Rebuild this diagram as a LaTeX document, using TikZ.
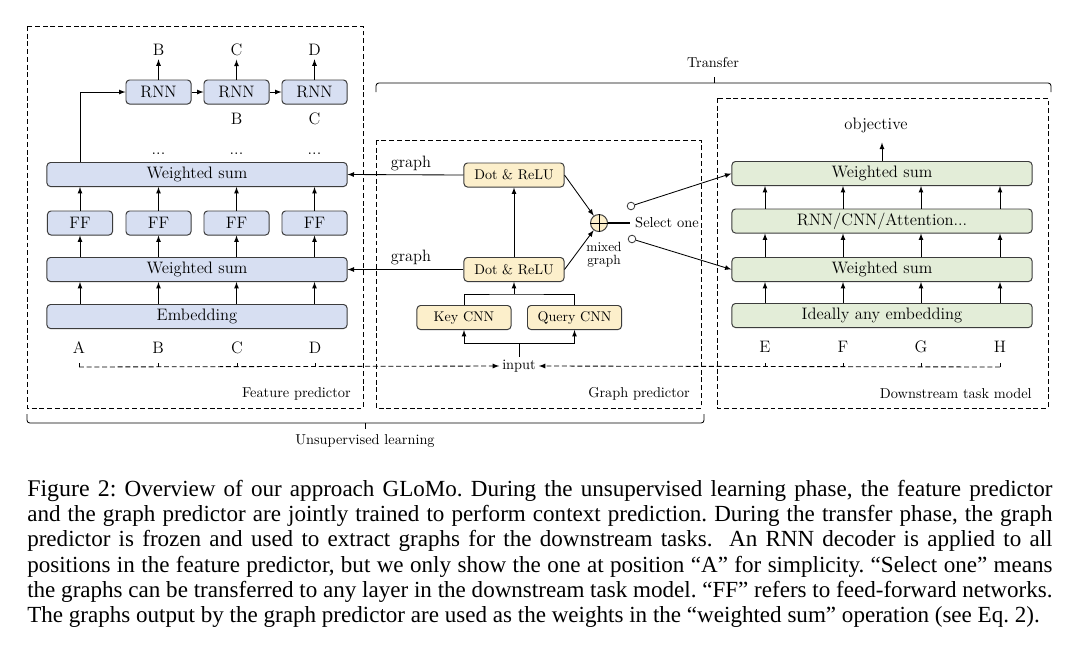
\documentclass[tikz,border=0pt]{standalone}
\usepackage{tikz}
\usepackage{xcolor}
\usepackage{fontspec}
\newfontfamily\capfont{Liberation Serif}
\usetikzlibrary{arrows}
\definecolor{fpblue}{HTML}{D7DFF2}
\definecolor{gpyellow}{HTML}{FCEFCB}
\definecolor{dsgreen}{HTML}{E3EDD8}
\definecolor{boxline}{HTML}{3C3C3C}

\begin{document}
\begin{tikzpicture}[x=0.025cm,y=-0.025cm,
  box/.style={draw=boxline,line width=0.7pt,rounded corners=2.5pt,inner sep=0pt,minimum height=0.6cm},
  fpbox/.style={box,fill=fpblue,font=\fontsize{11.8}{14}\selectfont},
  gpbox/.style={box,fill=gpyellow,font=\fontsize{10}{12}\selectfont},
  dsbox/.style={box,fill=dsgreen,font=\fontsize{11.8}{14}\selectfont},
  wide/.style={minimum width=7.5cm},
  narrow/.style={minimum width=1.625cm},
  lbl/.style={inner sep=2.4pt,font=\fontsize{11.8}{14}\selectfont},
  small/.style={inner sep=0pt,font=\fontsize{10.2}{12}\selectfont},
  region/.style={dash pattern=on 3.5pt off 2pt,line width=0.6pt},
  link/.style={line width=0.6pt},
  arr/.style={-latex,line width=0.6pt}]
\fill[white] (0,0) rectangle (1080,646);

\draw[region] (27,26) rectangle (363,408);
\draw[region] (376,140) rectangle (701,408);
\draw[region] (717,98) rectangle (1048,408);
\node[small,anchor=east] (fpname) at (351,394) {Feature predictor};
\node[small,anchor=east] (gpname) at (690,394) {Graph predictor};
\node[small,anchor=east] (dsname) at (1032,394) {Downstream task model};

\draw[link,rounded corners=2pt] (27,414) -- (27,423) -- (704,423) -- (704,414);
\draw[link] (365,423) -- (365,429);
\node[small] (unsup) at (365,441) {Unsupervised learning};
\draw[link,rounded corners=2pt] (376,92) -- (376,83) -- (1051,83) -- (1051,92);
\draw[link] (714,83) -- (714,77);
\node[small] (trans) at (713,63) {Transfer};

\node[fpbox,narrow] (rnnA) at (158.5,92) {RNN};
\node[fpbox,narrow] (rnnB) at (236.5,92) {RNN};
\node[fpbox,narrow] (rnnC) at (314.5,92) {RNN};
\node[lbl] (outB) at (158.5,50) {B};
\node[lbl] (outC) at (236.5,50) {C};
\node[lbl] (outD) at (314.5,50) {D};
\node[lbl] (inB) at (236.5,119) {B};
\node[lbl] (inC) at (314.5,119) {C};
\node[lbl,inner sep=0pt,anchor=base] (dotsB) at (158.5,154) {...};
\node[lbl,inner sep=0pt,anchor=base] (dotsC) at (236.5,154) {...};
\node[lbl,inner sep=0pt,anchor=base] (dotsD) at (314.5,154) {...};
\node[fpbox,wide] (wsumT) at (197,174.5) {Weighted sum};
\node[fpbox,narrow] (ffA) at (80,223) {FF};
\node[fpbox,narrow] (ffB) at (158.5,223) {FF};
\node[fpbox,narrow] (ffC) at (236.5,223) {FF};
\node[fpbox,narrow] (ffD) at (314.5,223) {FF};
\node[fpbox,wide] (wsumB) at (197,269.5) {Weighted sum};
\node[fpbox,wide] (embed) at (197,316.5) {Embedding};
\node[lbl,inner sep=0pt] (lA) at (79,348) {A};
\node[lbl,inner sep=0pt] (lB) at (158,348) {B};
\node[lbl,inner sep=0pt] (lC) at (237,348) {C};
\node[lbl,inner sep=0pt] (lD) at (315,348) {D};

\draw[arr] (rnnA) -- (outB);
\draw[arr] (rnnB) -- (outC);
\draw[arr] (rnnC) -- (outD);
\draw[arr] (rnnA) -- (rnnB);
\draw[arr] (rnnB) -- (rnnC);
\draw[arr] (ffA |- wsumT.north) |- (rnnA.west);
\draw[arr] (ffA.north) -- (ffA |- wsumT.south);
\draw[arr] (ffB.north) -- (ffB |- wsumT.south);
\draw[arr] (ffC.north) -- (ffC |- wsumT.south);
\draw[arr] (ffD.north) -- (ffD |- wsumT.south);
\draw[arr] (ffA |- wsumB.north) -- (ffA.south);
\draw[arr] (ffB |- wsumB.north) -- (ffB.south);
\draw[arr] (ffC |- wsumB.north) -- (ffC.south);
\draw[arr] (ffD |- wsumB.north) -- (ffD.south);
\draw[arr] (ffA |- embed.north) -- (ffA |- wsumB.south);
\draw[arr] (ffB |- embed.north) -- (ffB |- wsumB.south);
\draw[arr] (ffC |- embed.north) -- (ffC |- wsumB.south);
\draw[arr] (ffD |- embed.north) -- (ffD |- wsumB.south);

\node[gpbox,minimum width=2.5cm] (dotT) at (514,175) {Dot \& ReLU};
\node[gpbox,minimum width=2.5cm] (dotB) at (514,269.5) {Dot \& ReLU};
\node[gpbox,minimum width=2.35cm] (keyC) at (464,317.5) {Key CNN};
\node[gpbox,minimum width=2.35cm] (qryC) at (574.5,317.5) {Query CNN};
\node[circle,draw=boxline,fill=gpyellow,line width=0.7pt,minimum size=0.425cm,inner sep=0pt] (mix) at (599,223) {};
\draw[link] (mix.north) -- (mix.south) (mix.west) -- (mix.east);
\node[font=\fontsize{11.7}{14}\selectfont,inner sep=0pt] (grT) at (411,163) {graph};
\node[font=\fontsize{11.7}{14}\selectfont,inner sep=0pt] (grB) at (411,257) {graph};
\node[font=\fontsize{10.3}{12}\selectfont,anchor=west,inner xsep=3.5pt,inner ysep=0pt] (sel) at (630,223) {Select one};
\node[font=\fontsize{9.5}{9.5}\selectfont,align=center,inner sep=0pt] (mixlbl) at (604,255) {mixed\\graph};
\node[circle,draw=boxline,fill=white,line width=0.6pt,minimum size=0.19cm,inner sep=0pt] (swT) at (631,206) {};
\node[circle,draw=boxline,fill=white,line width=0.6pt,minimum size=0.19cm,inner sep=0pt] (swB) at (632,239) {};
\node[font=\fontsize{10.2}{12}\selectfont,inner sep=2pt] (inp) at (519,366) {input};
\coordinate (kqtop) at (514,294);
\coordinate (kqbot) at (519,343);
\coordinate (dline) at (0,367);

\draw[arr] (dotT.west) -- (wsumT.east);
\draw[arr] (dotB.west) -- (wsumB.east);
\draw[arr] (dotB.north) -- (dotT.south);
\draw[arr] (dotT.east) -- (mix);
\draw[arr] (dotB.east) -- (mix);
\draw[line width=0.8pt] (mix.east) -- (sel.west);
\draw[link] (keyC.north) |- (kqtop) -| (qryC.north);
\draw[arr] (kqtop) -- (dotB.south);
\draw[link] (inp.north) -- (kqbot);
\draw[arr] (kqbot) -| (keyC.south);
\draw[arr] (kqbot) -| (qryC.south);

\node[dsbox,wide] (wsR1) at (882,173.5) {Weighted sum};
\node[dsbox,wide] (rcaR) at (882,221) {RNN/CNN/Attention...};
\node[dsbox,wide] (wsR2) at (882,269.5) {Weighted sum};
\node[dsbox,wide] (embR) at (882,315.5) {Ideally any embedding};
\node[lbl,inner sep=0pt] (lE) at (765,347) {E};
\node[lbl,inner sep=0pt] (lF) at (843,347) {F};
\node[lbl,inner sep=0pt] (lG) at (921,347) {G};
\node[lbl,inner sep=0pt] (lH) at (1000,347) {H};
\node[lbl,inner xsep=0pt,inner ysep=7pt] (obj) at (876,125) {objective};

\draw[arr] (wsR1.north) -- (wsR1.north |- obj.south);
\draw[arr] (lE |- rcaR.north) -- (lE |- wsR1.south);
\draw[arr] (lF |- rcaR.north) -- (lF |- wsR1.south);
\draw[arr] (lG |- rcaR.north) -- (lG |- wsR1.south);
\draw[arr] (lH |- rcaR.north) -- (lH |- wsR1.south);
\draw[arr] (lE |- wsR2.north) -- (lE |- rcaR.south);
\draw[arr] (lF |- wsR2.north) -- (lF |- rcaR.south);
\draw[arr] (lG |- wsR2.north) -- (lG |- rcaR.south);
\draw[arr] (lH |- wsR2.north) -- (lH |- rcaR.south);
\draw[arr] (lE |- embR.north) -- (lE |- wsR2.south);
\draw[arr] (lF |- embR.north) -- (lF |- wsR2.south);
\draw[arr] (lG |- embR.north) -- (lG |- wsR2.south);
\draw[arr] (lH |- embR.north) -- (lH |- wsR2.south);
\draw[arr] (swT) -- (wsR1.west);
\draw[arr] (swB) -- (wsR2.west);

\draw[region,-latex] (lA |- dline) -- (inp.west);
\draw[region,-latex] (lH |- dline) -- (inp.east);
\draw[link] (lA |- dline) -- ++(0,-4) (lB |- dline) -- ++(0,-4) (lC |- dline) -- ++(0,-4) (lD |- dline) -- ++(0,-4);
\draw[link] (lE |- dline) -- ++(0,-4) (lF |- dline) -- ++(0,-4) (lG |- dline) -- ++(0,-4) (lH |- dline) -- ++(0,-4);

\node[anchor=north west,inner sep=0pt,text width=25.625cm,font=\capfont\fontsize{16.4}{17.9}\selectfont] (cap) at (27,480) {\frenchspacing\spaceskip=0.25em plus 0.3em minus 0.15em
\hbox to\linewidth{{\fontsize{17}{17.9}\selectfont Figure 2:} Overview of our approach GLoMo. During the unsupervised learning phase, the feature predictor}
\hbox to\linewidth{and the graph predictor are jointly trained to perform context prediction. During the transfer phase, the graph}
\hbox to\linewidth{predictor is frozen and used to extract graphs for the downstream tasks. \ An RNN decoder is applied to all}
\hbox to\linewidth{positions in the feature predictor, but we only show the one at position “A” for simplicity. “Select one” means}
\hbox to\linewidth{the graphs can be transferred to any layer in the downstream task model. “FF” refers to feed-forward networks.}
\hbox{The graphs output by the graph predictor are used as the weights in the “weighted sum” operation (see Eq. 2).}};
\end{tikzpicture}
\end{document}
